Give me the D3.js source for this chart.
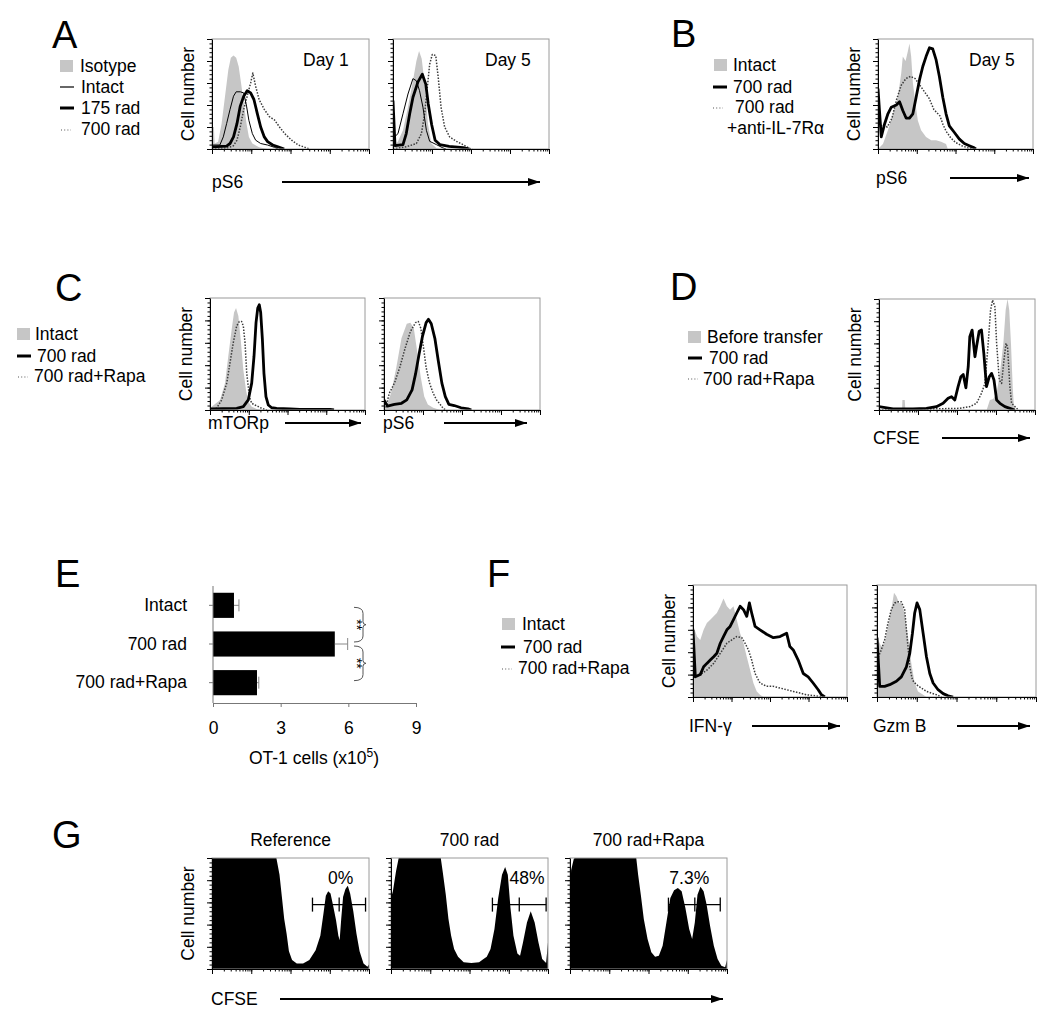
<!DOCTYPE html>
<html>
<head>
<meta charset="utf-8">
<script src="https://cdn.jsdelivr.net/npm/d3@7"></script>
<style>
  body { margin: 0; background: #fff; }
  svg { display: block; font-family: "Liberation Sans", Arial, sans-serif; }
</style>
</head>
<body>
<div id="fig"></div>
<script>
// histogram curves: [channel % of axis, height % of plot]
// A, day 1
const aDay1Isotype = [[0,0],[0.3,20],[1.2,20],[1.7,5],[3.9,6.7],[6.1,23],[8.3,48],[10.4,72],[12,83],[13.7,85],[15.4,83],[17,75],[18.5,60],[20.2,42],[22,23],[23.5,11],[25.7,5],[30,1.5],[35.4,0]];
const aDay1Intact = [[0,3.6],[5,3.6],[7.2,11],[9.3,23],[11.5,36],[13.7,48],[15.4,52],[18,52],[20.2,51],[22,39],[23.5,26],[25.7,14],[27.8,8],[31,5],[35.4,3.6],[39.8,1.5],[42,0]];
const aDay1Rad175 = [[0,2],[9.3,2.7],[11.5,5],[13.7,11],[15.9,23],[18,39],[20.2,48],[22.4,53],[24.6,51],[26.7,45],[28.9,32],[31,20],[33.3,11],[35.4,6.7],[38.7,3.6],[42,2],[46,0]];
const aDay1Rad700 = [[0,0],[10,1],[13.7,3],[15.9,8],[18,20],[20.2,36],[22.4,48],[24.6,60],[26,69],[27.8,57],[30,45],[33.3,36],[36.5,29.5],[39.8,26.4],[43,20],[46.3,14],[50.7,8],[55,3.6],[59.3,1.5],[62,0]];
// A, day 5
const aDay5Isotype = [[0,0],[3.2,7],[6.4,17],[9.6,38],[12.8,62],[15,80],[16.7,89],[18.4,82],[20.3,59],[22.4,23],[24.6,5],[27.8,1],[30,0]];
const aDay5Intact = [[0,44],[1,11],[3.2,14],[6.4,32],[9.6,50],[12.8,64],[15,62],[17,53],[19.2,38],[21.4,17],[23.5,7],[27.8,4],[32,1],[34,0]];
const aDay5Rad175 = [[0,44],[1.3,3],[6.4,4],[8.5,14],[10.7,32],[12.8,47],[16,61],[18.8,68],[21,59],[22.6,41],[24.8,22],[27,8],[30,4],[36,2.4],[45,1.2],[49,0]];
const aDay5Rad700 = [[0,0],[8.5,2],[15,5],[18.2,14],[20.3,32],[22,56],[23.5,77],[25.2,86],[27.4,85],[29,65],[30.8,38],[33.1,20],[36.3,11],[40.6,7],[44.9,4],[49,0.5],[51,0]];
// B
const bIntact = [[0,0],[3.2,4.6],[6.4,17],[9.6,32],[12.8,47],[15,69],[16,84],[17.8,80],[19.3,89],[20.3,96],[21.4,84],[22.5,60],[24.2,41],[25.7,26],[27.8,17],[31,11],[34.3,8],[37.5,8],[40.7,6.5],[43.9,4.6],[45,0]];
const bRad700 = [[0,55],[2.1,11],[4.3,23],[6.4,32],[8.6,38],[11.8,40],[13.9,43],[16,35],[18.2,28],[20.3,28],[22.5,32],[24.6,47],[26.8,63],[28.9,75],[31,84],[33.2,92],[35.3,91],[37.5,81],[39.6,66],[41.8,47],[43.9,32],[46,21],[49.3,15],[52.5,9],[55.7,5],[58.9,3],[62.1,1],[63.2,0]];
const bRad700AntiIL7 = [[0,20],[3,22],[6,20],[9,28],[12,45],[15,58],[18,64],[21,66],[24,64],[27,58],[30,52],[33,46],[36,36],[38,33],[40,30],[42,22],[44,16],[47,10],[50,6],[54,3],[58,1],[62,0]];
// C, mTORp
const cMtorIntact = [[0,0],[1,3],[6.5,9],[9.7,24],[11.8,48],[14,72],[15.5,87],[16.8,91],[18.3,84],[19.8,63],[21.5,36],[23.2,18],[24.7,7.5],[26.9,3],[30.1,1],[33.3,0]];
const cMtorRad700 = [[0,1],[17.2,1.5],[21.5,3],[24.7,9],[26.9,24],[28.4,48],[29.7,78],[30.8,91],[31.8,94],[32.7,87],[33.8,63],[34.8,33],[36.1,12],[37.6,4.5],[39.8,2],[43,1.5],[51.6,1],[58,0.5],[77.4,0.5],[80,0]];
const cMtorRapa = [[0,0],[4.3,1.5],[7.5,9],[10.8,24],[12.9,42],[15,60],[17.2,75],[18.9,79],[20.4,79],[21.5,75],[22.6,60],[23.7,33],[25.4,12],[26.9,6],[29,4.5],[31.2,3],[33.3,1.5],[36.6,0]];
// C, pS6
const cPs6Intact = [[0,0],[1.1,2],[4.5,15],[7.9,38],[11.2,64],[14.6,77],[16.9,78],[19.1,73],[21.3,52],[23.6,29],[25.8,12],[28.1,5],[31.5,2],[36,0]];
const cPs6Rad700 = [[0,9],[2.2,3.5],[6.7,5],[11.2,6],[14.6,9],[18,18],[20.2,32],[22.5,50],[24.7,66],[27,78],[28.5,81],[30.3,77],[32.6,64],[34.8,44],[37.1,24],[39.3,12],[41.6,5],[45,4],[49.4,2],[53.9,1],[56,0]];
const cPs6Rapa = [[0,0],[1.1,2],[3.4,15],[6.7,24],[10.1,38],[13.5,55],[16.9,70],[20.2,78],[22,79],[23.6,73],[25.4,55],[27,38],[29.2,24],[31.5,15],[33.7,9],[36,5],[38.2,1],[40,0]];
// D, CFSE
const dBefore = [[0,0],[14.8,0],[15,9],[16.5,9],[16.9,0],[69,0],[71.1,9],[73.2,10],[75.4,15],[77.5,33],[79.7,60],[81.2,90],[82.4,100],[83.5,90],[84.6,60],[85.7,21],[86.5,3],[87.8,0]];
const dRad700 = [[0,3],[9,1],[21.8,1],[30.4,1.5],[36.8,3],[41.1,6],[44.3,10.5],[46.5,12],[48.6,9],[50.7,21],[52.5,30],[54,32],[55.7,20],[57.2,39],[58.2,66],[59.7,72],[61.5,48],[62.5,57],[64.2,71],[65.7,72],[67.2,51],[68.9,21],[70.7,30],[72.2,33],[73.7,27],[75.4,9],[77.5,6],[80.7,3],[83.9,1.5],[87,0]];
const dRapa = [[0,0],[51.8,1.5],[58.2,3],[62.5,6],[65.7,15],[67.9,24],[70,60],[71.5,90],[72.8,99],[74.3,93],[75.4,60],[77.1,27],[78.6,24],[80.1,45],[81.4,60],[82.4,57],[83.9,21],[85,6],[87.2,3],[89.3,0]];
// E, bar chart
const eCategories = ["Intact", "700 rad", "700 rad+Rapa"];
const eMeans = [0.93, 5.4, 1.95];
const eErrors = [0.22, 0.57, 0.08];
const eTicks = [0, 3, 6, 9];
const eSig = [["Intact", "700 rad", "**"], ["700 rad", "700 rad+Rapa", "**"]];
// F, IFN-g
const fIfnIntact = [[0,63],[0.4,63],[2.6,54],[4.7,51],[6.9,60],[9,66],[11.2,69],[13.4,72],[15.5,75],[17.7,81],[19.8,88],[22,81],[24.1,78],[26.3,81],[28.4,69],[30.6,57],[32.8,48],[34.9,36],[37.1,24],[39.2,12.5],[41.4,5],[43.5,2],[45.7,0]];
const fIfnRad700 = [[0,60],[1.5,18],[4.7,20],[6.9,27],[9,30],[11.2,33],[13.4,36],[15.5,39],[17.7,48],[19.8,54],[22,60],[24.1,63],[26.3,69],[28.4,75],[30.6,81],[32.8,78],[34.9,72],[36.6,84],[38.1,75],[40.3,63],[43.5,60],[47.8,56],[52.2,53],[56.5,54],[60.8,57],[62.9,45],[65.1,42],[68.3,33],[71.6,21],[74.8,18],[78,12.5],[81.3,6.5],[83.4,2],[85.6,0]];
const fIfnRapa = [[0,18],[4.7,20],[9,24],[13.4,30],[17.7,39],[22,48],[25.2,51],[28.4,54],[31.7,53],[33.8,48],[36,42],[38.1,33],[40.3,21],[43.5,12.5],[47.8,9.5],[52.2,9.5],[56.5,8],[60.8,6.5],[65.1,5],[69.4,3.5],[73.7,2],[80.2,1],[84.5,0]];
// F, Gzm B
const fGzmIntact = [[0,53],[2.7,45],[4.8,48],[6.9,63],[9,78],[10.7,93],[12.2,90],[13.9,84],[15.3,84],[17.4,75],[19.5,54],[21.6,30],[23.7,12.5],[25.8,5],[29,2],[31.1,0]];
const fGzmRad700 = [[0,53],[1.7,9.5],[4.8,9.5],[8,11],[12.2,14],[15.3,18],[18.5,27],[20.6,39],[22.3,57],[23.7,75],[25.2,84],[26.9,78],[29,57],[31.1,36],[33.2,21],[35.3,12.5],[38.4,6.5],[41.6,3],[44.7,1],[47.9,0]];
const fGzmRapa = [[0,33],[2.7,42],[4.8,51],[6.9,66],[9,78],[11.1,84],[13.2,85],[15.3,85],[17.4,78],[18.9,54],[20.6,27],[22.3,15],[24.8,11],[27.9,8],[31.1,5],[34.2,3.5],[37.4,2],[40.5,0]];
// G, CFSE dilution
const gReference = [[0,100],[41,100],[43,85],[44.5,65],[46,45],[47.5,32],[49,16],[51,8],[54,5],[58,5],[62,8],[66,17],[69,30],[71,50],[72.5,66],[74,70],[75.5,68],[77,58],[79,44],[80.5,30],[81.3,26],[82.3,45],[83.5,65],[85,72],[86.5,75],[88,68],[90,52],[92,32],[94,16],[96.5,5],[99,2],[100,4]];
const gRad700 = [[0,64],[1.2,70],[3.2,88],[4.9,100],[31.7,100],[32.9,88],[34.9,67],[36.6,45],[38.3,30],[40.2,18],[42.7,11],[46.3,6],[51.2,5.5],[56.1,6],[58.5,8.5],[61,11],[63.4,18],[65.9,36],[68.3,64],[70.7,85],[72.7,92],[74.4,85],[76.1,55],[78,30],[80.5,14],[82.2,12],[84.1,24],[86.6,42],[89,52],[91.5,42],[93.9,24],[96.3,9],[98.8,5.5],[100,24]];
const gRapa = [[0,60],[0.7,89],[2.4,99],[3,100],[42.2,100],[43.4,85],[45.1,67],[47,45],[49.4,27],[51.8,15],[54.2,11],[56.6,12],[59,21],[61.4,42],[63.9,64],[66.3,71],[68.7,73],[71.1,70],[73.5,55],[75.9,36],[77.8,27],[79.5,42],[81.2,67],[83.1,74],[85.1,70],[87,58],[89.2,39],[91.6,21],[94,9],[96.4,3],[98.8,1.5],[100,8]];
const gTitles = ["Reference", "700 rad", "700 rad+Rapa"];
const gGates = [[64, 81, 97.8], [64.6, 81.7, 98.8], [62.7, 79.5, 95.7]];
const gPercents = ["0%", "48%", "7.3%"];
const gPercentX = [82, 86.6, 76];

const W = 1050, H = 1020;
const FS = 17.5;
const svg = d3.select("#fig").append("svg")
    .attr("width", W)
    .attr("height", H)
    .attr("viewBox", [0, 0, W, H]);

const defs = svg.append("defs");
defs.append("marker")
    .attr("id", "arrowhead")
    .attr("viewBox", "0 0 12 8")
    .attr("refX", 12).attr("refY", 4)
    .attr("markerUnits", "userSpaceOnUse")
    .attr("markerWidth", 12).attr("markerHeight", 8)
    .attr("orient", "auto")
    .append("path").attr("d", "M0,0 L12,4 L0,8 Z").attr("fill", "#000");

const GRAY = "#c6c6c6";

function txt(x, y, s, size = FS, anchor = "start") {
    return svg.append("text").attr("x", x).attr("y", y)
        .attr("font-size", size).attr("text-anchor", anchor).attr("fill", "#000").text(s);
}

function panelLetter(x, y, s) { txt(x, y, s, 38); }

function cellNumber(frame) {
    svg.append("text")
        .attr("transform", `translate(${frame.x - 18},${frame.y + frame.h / 2}) rotate(-90)`)
        .attr("text-anchor", "middle").attr("font-size", FS).attr("fill", "#000").text("Cell number");
}

function axisArrow(x1, x2, y) {
    svg.append("line").attr("x1", x1).attr("x2", x2 - 3).attr("y1", y).attr("y2", y)
        .attr("stroke", "#000").attr("stroke-width", 2).attr("marker-end", "url(#arrowhead)");
}

function legendItem(x, y, kind) {
    if (kind === "fill") {
        svg.append("rect").attr("x", x).attr("y", y - 6).attr("width", 13).attr("height", 12).attr("fill", GRAY);
    } else {
        const len = kind === "dotted" ? 10 : 14;
        svg.append("line").attr("x1", x).attr("x2", x + len).attr("y1", y).attr("y2", y)
            .attr("stroke", kind === "dotted" ? "#555" : "#000")
            .attr("stroke-width", kind === "thick" ? 3 : 1.2)
            .attr("stroke-dasharray", kind === "dotted" ? "1,2.2" : null);
    }
}

let clipN = 0;
function histogram(frame, series) {
    const x = d3.scaleLinear().domain([0, 100]).range([frame.x, frame.x + frame.w]);
    const y = d3.scaleLinear().domain([0, 100]).range([frame.y + frame.h, frame.y]);
    const xLog = d3.scaleLog().domain([1, 1e4]).range([frame.x, frame.x + frame.w]);
    const id = "clip" + (clipN++);
    defs.append("clipPath").attr("id", id).append("rect")
        .attr("x", frame.x).attr("y", frame.y).attr("width", frame.w).attr("height", frame.h);

    const g = svg.append("g");
    const body = g.append("g").attr("clip-path", `url(#${id})`);
    const area = d3.area().x(d => x(d[0])).y0(y(0)).y1(d => y(d[1]));
    const line = d3.line().x(d => x(d[0])).y(d => y(d[1]));

    series.forEach(s => {
        if (s.style === "fill" || s.style === "black") {
            body.append("path").datum(s.data).attr("d", area)
                .attr("fill", s.style === "fill" ? GRAY : "#000");
        } else {
            body.append("path").datum(s.data).attr("d", line)
                .attr("fill", "none")
                .attr("stroke", s.style === "dotted" ? "#3a3a3a" : "#000")
                .attr("stroke-width", s.style === "thick" ? 2.8 : s.style === "thin" ? 1 : 1.5)
                .attr("stroke-dasharray", s.style === "dotted" ? "1.5,1.5" : null)
                .attr("stroke-linejoin", "round");
        }
    });

    g.append("rect").attr("x", frame.x).attr("y", frame.y).attr("width", frame.w).attr("height", frame.h)
        .attr("fill", "none").attr("stroke", "#9a9a9a");

    // FlowJo style ticks, minor + major
    g.append("g").attr("transform", `translate(${frame.x},0)`)
        .call(d3.axisLeft(y).tickValues(d3.range(0, 101, 4)).tickSize(2.5).tickFormat(""))
        .call(a => a.select(".domain").remove());
    g.append("g").attr("transform", `translate(${frame.x},0)`)
        .call(d3.axisLeft(y).tickValues(d3.range(0, 101, 20)).tickSize(5).tickSizeOuter(0).tickFormat(""));
    g.append("g").attr("transform", `translate(0,${frame.y + frame.h})`)
        .call(d3.axisBottom(xLog).tickValues(xLog.ticks()).tickSize(2.5).tickFormat(""))
        .call(a => a.select(".domain").remove());
    g.append("g").attr("transform", `translate(0,${frame.y + frame.h})`)
        .call(d3.axisBottom(xLog).tickValues([1, 10, 100, 1000, 10000]).tickSize(5).tickSizeOuter(0).tickFormat(""));
    g.selectAll(".tick line").attr("stroke", "#000");
    return { x, y, g };
}

// ---------- A ----------
panelLetter(52, 48, "A");
legendItem(60, 66, "fill"); txt(80, 72, "Isotype");
legendItem(60, 87, "thin"); txt(81, 93, "Intact");
legendItem(60, 108, "thick"); txt(81, 114, "175 rad");
legendItem(61, 130, "dotted"); txt(81, 135, "700 rad");
const fA1 = { x: 212, y: 39, w: 157, h: 110 };
const fA2 = { x: 393, y: 39, w: 156, h: 110 };
histogram(fA1, [
    { style: "fill", data: aDay1Isotype },
    { style: "dotted", data: aDay1Rad700 },
    { style: "thin", data: aDay1Intact },
    { style: "thick", data: aDay1Rad175 }
]);
histogram(fA2, [
    { style: "fill", data: aDay5Isotype },
    { style: "dotted", data: aDay5Rad700 },
    { style: "thin", data: aDay5Intact },
    { style: "thick", data: aDay5Rad175 }
]);
cellNumber(fA1);
txt(303, 66, "Day 1");
txt(485, 66, "Day 5");
txt(212, 188, "pS6");
axisArrow(282, 543, 182);

// ---------- B ----------
panelLetter(671, 47, "B");
legendItem(714, 65, "fill"); txt(733, 71, "Intact");
legendItem(713, 87, "thick"); txt(733, 93, "700 rad");
legendItem(713, 108, "dotted"); txt(735, 113, "700 rad");
txt(727, 134, "+anti-IL-7R\u03b1");
const fB = { x: 878, y: 39, w: 155, h: 110 };
histogram(fB, [
    { style: "fill", data: bIntact },
    { style: "dotted", data: bRad700AntiIL7 },
    { style: "thick", data: bRad700 }
]);
cellNumber(fB);
txt(969, 66, "Day 5");
txt(876, 184, "pS6");
axisArrow(950, 1032, 178);

// ---------- C ----------
panelLetter(55, 301, "C");
legendItem(17, 334, "fill"); txt(35, 340, "Intact");
legendItem(17, 356, "thick"); txt(37, 362, "700 rad");
legendItem(18, 377, "dotted"); txt(34, 382, "700 rad+Rapa");
const fC1 = { x: 210, y: 298, w: 155, h: 112 };
const fC2 = { x: 384, y: 298, w: 156, h: 112 };
histogram(fC1, [
    { style: "fill", data: cMtorIntact },
    { style: "dotted", data: cMtorRapa },
    { style: "thick", data: cMtorRad700 }
]);
histogram(fC2, [
    { style: "fill", data: cPs6Intact },
    { style: "dotted", data: cPs6Rapa },
    { style: "thick", data: cPs6Rad700 }
]);
cellNumber(fC1);
txt(208, 429, "mTORp");
axisArrow(285, 364, 423);
txt(383, 429, "pS6");
axisArrow(444, 530, 423);

// ---------- D ----------
panelLetter(670, 300, "D");
legendItem(688, 337, "fill"); txt(707, 343, "Before transfer");
legendItem(688, 358, "thick"); txt(709, 364, "700 rad");
legendItem(688, 379, "dotted"); txt(703, 385, "700 rad+Rapa");
const fD = { x: 879, y: 299, w: 156, h: 111 };
histogram(fD, [
    { style: "fill", data: dBefore },
    { style: "dotted", data: dRapa },
    { style: "thick", data: dRad700 }
]);
cellNumber(fD);
txt(873, 444, "CFSE");
axisArrow(942, 1033, 438);

// ---------- E ----------
panelLetter(55, 587, "E");
const ex = d3.scaleLinear().domain([0, 9]).range([213, 416]);
const ey = d3.scaleBand().domain(eCategories).range([586, 702]).paddingInner(0.35).paddingOuter(0.175);
const eg = svg.append("g");
eg.selectAll("rect.bar").data(eCategories).join("rect")
    .attr("class", "bar")
    .attr("x", ex(0))
    .attr("y", d => ey(d))
    .attr("width", (d, i) => ex(eMeans[i]) - ex(0))
    .attr("height", ey.bandwidth())
    .attr("fill", "#000");
eCategories.forEach((c, i) => {
    const cy = ey(c) + ey.bandwidth() / 2;
    const x0 = ex(eMeans[i]), x1 = ex(eMeans[i] + eErrors[i]);
    eg.append("line").attr("x1", x0).attr("x2", x1).attr("y1", cy).attr("y2", cy).attr("stroke", "#888");
    eg.append("line").attr("x1", x1).attr("x2", x1).attr("y1", cy - 6).attr("y2", cy + 6).attr("stroke", "#888");
});
const eyAxis = eg.append("g").attr("transform", "translate(213,0)")
    .call(d3.axisLeft(ey).tickSize(4).tickSizeOuter(0).tickPadding(22));
eyAxis.select(".domain").attr("d", "M0,586V703");
const exAxis = eg.append("g").attr("transform", "translate(0,703)")
    .call(d3.axisBottom(ex).tickValues(eTicks).tickSize(4).tickSizeOuter(0).tickPadding(15));
[eyAxis, exAxis].forEach(a => {
    a.selectAll("text").attr("font-size", FS).attr("font-family", "Liberation Sans, Arial, sans-serif").attr("fill", "#000");
    a.selectAll("line, path").attr("stroke", "#777");
});
eSig.forEach(([a, b, label]) => {
    const y1 = ey(a) + ey.bandwidth() / 2 + 2;
    const y2 = ey(b) + ey.bandwidth() / 2 - 2;
    const ym = (y1 + y2) / 2;
    const x0 = 354, x1 = 363;
    eg.append("path")
        .attr("d", `M${x0},${y1} Q${x1},${y1} ${x1},${y1 + 6} L${x1},${ym - 3} Q${x1},${ym} ${x1 + 3},${ym} Q${x1},${ym} ${x1},${ym + 3} L${x1},${y2 - 6} Q${x1},${y2} ${x0},${y2}`)
        .attr("fill", "none").attr("stroke", "#555").attr("stroke-width", 1);
    eg.append("text")
        .attr("transform", `translate(357,${ym}) rotate(90)`)
        .attr("text-anchor", "middle").attr("dy", "0.35em").attr("font-size", 14)
        .attr("fill", "#000").text(label);
});
const exLabel = txt(314, 764, "OT-1 cells (x10", FS, "middle");
exLabel.append("tspan").attr("font-size", 12).attr("dy", -7).text("5");
exLabel.append("tspan").attr("dy", 7).text(")");

// ---------- F ----------
panelLetter(487, 587, "F");
legendItem(502, 624, "fill"); txt(522, 630, "Intact");
legendItem(501, 647, "thick"); txt(523, 653, "700 rad");
legendItem(502, 669, "dotted"); txt(518, 674, "700 rad+Rapa");
const fF1 = { x: 693, y: 585, w: 154, h: 112 };
const fF2 = { x: 877, y: 585, w: 159, h: 112 };
histogram(fF1, [
    { style: "fill", data: fIfnIntact },
    { style: "dotted", data: fIfnRapa },
    { style: "thick", data: fIfnRad700 }
]);
histogram(fF2, [
    { style: "fill", data: fGzmIntact },
    { style: "dotted", data: fGzmRapa },
    { style: "thick", data: fGzmRad700 }
]);
cellNumber(fF1);
txt(689, 732, "IFN-\u03b3");
axisArrow(752, 843, 726);
txt(873, 732, "Gzm B");
axisArrow(957, 1033, 726);

// ---------- G ----------
panelLetter(52, 848, "G");
const gFrames = [
    { x: 212, y: 858, w: 157, h: 111 },
    { x: 391, y: 858, w: 157, h: 111 },
    { x: 570, y: 858, w: 157, h: 111 }
];
const gData = [gReference, gRad700, gRapa];
gFrames.forEach((f, i) => {
    const { x, y } = histogram(f, [{ style: "black", data: gData[i] }]);
    txt(f.x + f.w / 2, 846, gTitles[i], FS, "middle");
    const gy = y(58);
    const gate = gGates[i];
    svg.append("line").attr("x1", x(gate[0])).attr("x2", x(gate[2])).attr("y1", gy).attr("y2", gy)
        .attr("stroke", "#000").attr("stroke-width", 1.3);
    gate.forEach(v => {
        svg.append("line").attr("x1", x(v)).attr("x2", x(v)).attr("y1", gy - 7).attr("y2", gy + 7)
            .attr("stroke", "#000").attr("stroke-width", 1.3);
    });
    txt(x(gPercentX[i]), 884, gPercents[i], FS, "middle");
});
cellNumber(gFrames[0]);
txt(211, 1005, "CFSE");
axisArrow(280, 726, 999);
</script>
</body>
</html>
